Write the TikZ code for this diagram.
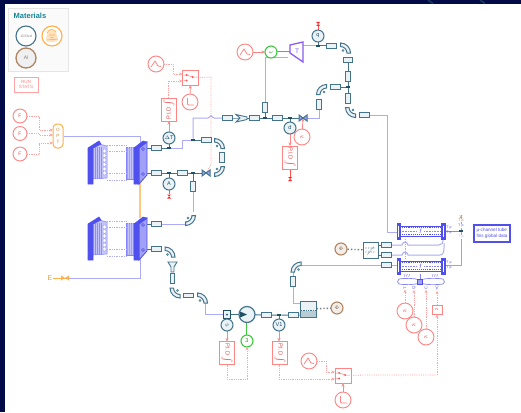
\documentclass[tikz,border=0pt]{standalone}
\usepackage{fontspec}
\setmainfont{Liberation Sans}
\usetikzlibrary{arrows.meta,calc,backgrounds}
\pgfdeclarelayer{lines}
\pgfdeclarelayer{back}
\pgfsetlayers{back,lines,main}
\definecolor{navy}{HTML}{020A48}
\definecolor{tealp}{HTML}{44748C}
\definecolor{teald}{HTML}{1F5068}
\definecolor{tealf}{HTML}{EAF2F6}
\definecolor{flow}{HTML}{ABABF6}
\definecolor{sg}{HTML}{FF8484}
\definecolor{sgl}{HTML}{FFA4A4}
\definecolor{sgt}{HTML}{E84A4A}
\definecolor{stb}{HTML}{5050EE}
\definecolor{stm}{HTML}{A0A0F8}
\definecolor{stl}{HTML}{C4C4FA}
\definecolor{grn}{HTML}{3CC83C}
\definecolor{prp}{HTML}{8A5CF0}
\definecolor{org}{HTML}{FFB04A}
\definecolor{brn}{HTML}{B08462}
\tikzset{
 pipeh/.style={draw=tealp,fill=tealf,line width=.9pt,minimum width=10pt,minimum height=4.5pt,inner sep=0pt,outer sep=0pt,rectangle},
 pipev/.style={draw=tealp,fill=tealf,line width=.9pt,minimum width=4.5pt,minimum height=10pt,inner sep=0pt,outer sep=0pt,rectangle},
 jct/.style={fill=teald,minimum width=4.5pt,minimum height=2.8pt,inner sep=0pt,outer sep=0pt,rectangle},
 sens/.style={circle,draw=tealp,fill=tealf,line width=1pt,minimum size=12pt,inner sep=0pt,outer sep=0pt,text=teald,font=\fontsize{5.5}{6}\selectfont},
 redc/.style={circle,draw=sg,fill=white,line width=.9pt,minimum size=16pt,inner sep=0pt,outer sep=0pt,text=sgt,font=\fontsize{6.5}{6}\selectfont},
 redm/.style={redc,minimum size=14pt,font=\fontsize{5}{6}\selectfont},
 greenc/.style={circle,draw=grn,fill=white,line width=1.1pt,minimum size=12pt,inner sep=0pt,outer sep=0pt,text=grn!70!black,font=\fontsize{5.5}{6}\selectfont},
 brownc/.style={circle,draw=brn,fill=brn!15,line width=1.1pt,minimum size=12pt,inner sep=0pt,outer sep=0pt,text=brn!70!black,font=\fontsize{5.5}{6}\selectfont},
 pidbox/.style={draw=sg,fill=white,line width=.9pt,minimum width=15pt,minimum height=23pt,inner sep=0pt,outer sep=0pt,rectangle,text=sgt,font=\fontsize{5.8}{6}\selectfont},
 swbox/.style={draw=sg,fill=white,line width=.9pt,minimum width=16pt,minimum height=15pt,inner sep=0pt,outer sep=0pt,rectangle},
 flowl/.style={draw=flow,line width=1pt},
 tline/.style={draw=tealp,line width=1pt},
 sigl/.style={draw=sgl,line width=.8pt,densely dotted},
 sigs/.style={draw=sg,line width=.8pt},
 arr/.style={-{Stealth[length=3.5pt,width=3pt]}},
 elbow/.pic={\path[draw=tealp,fill=tealf,line width=1pt] (0,-10) .. controls (5.5,-10) and (10,-5.5) .. (10,0) -- (6.5,0) .. controls (6.5,-3.5) and (3.5,-6.5) .. (0,-6.5) -- cycle;
   \draw[tealp,line width=.4pt] (2.5,-2.5) circle (1);},
 valve/.pic={\path[draw=tealp,fill=stm,line width=1pt] (-4,-3) -- (4,3) -- (4,-3) -- (-4,3) -- cycle;},
 gnd/.pic={\path[fill=red!85!white] (-2,-2) -- (2,-2) -- (-2,2) -- (2,2) -- cycle;},
 rampsym/.pic={\draw[sg,line width=.8pt] (-5,3) -- (-1,-3) -- (2,2) -- (5,2.5);},
 stepsym/.pic={\draw[sg,line width=.8pt,rounded corners=1pt] (-2.5,-4) -- (-2.5,3) -- (4,3);},
 swsym/.pic={\fill[red!80!white] (-4,-2.5) circle (1pt) (-4,3) circle (1pt) (2,-.5) circle (1pt);
   \draw[sg,line width=.5pt] (-7,-2.5) -- (-4,-2.5) -- (2,-.5) (-7,3) -- (-4,3) (2,-.5) -- (7,-.5);},
}
\newcommand{\stackunit}[2]{%
 \begin{scope}[shift={(#1,#2)}]
  \path[fill=stm,draw=stb!70!white,line width=.5pt] (38,6) rectangle (46,38);
  \foreach \q in {40,42,44} \draw[stl,line width=.5pt] (\q,6) -- (\q,38);
  \path[fill=stl,draw=stb!70!white,line width=.5pt] (5,7) -- (11,3) -- (19,5) -- (19,37) -- (5,38) -- cycle;
  \foreach \q in {7,9,11,13} \draw[stb!65!white,line width=.6pt] (\q,6) -- (\q,38);
  \foreach \q in {10,14.5,19,23.5,28,32} \draw[stb!50!white,fill=white,line width=.5pt] (16.5,\q) ellipse (1.6 and 2.1);
  \foreach \q in {4,10,32,39} \draw[stb!45!white,densely dotted,line width=.7pt] (19,\q) -- (38,\q);
  \path[fill=stb,draw=stb,line width=.6pt] (0,7) -- (11,0) -- (13,3) -- (5,7) -- (5,43) -- (0,43) -- cycle;
  \path[fill=stm,draw=stb,line width=.8pt] (51,7) -- (59,1) -- (59,34) -- (51,43) -- cycle;
  \path[fill=stb,draw=stb,line width=.6pt] (46,7) -- (55,0) -- (59,1) -- (51,7) -- (51,43) -- (46,43) -- cycle;
  \draw[stb,line width=.4pt] (55,8) circle (1.5) (55,33) circle (1.5);
 \end{scope}}
\newcommand{\hxunit}[1]{%
 \begin{scope}[shift={(397,#1)}]
  \draw[stb,line width=.8pt] (3,3) -- (44,3) (3,13) -- (44,13);
  \draw[stb,line width=1.1pt,densely dotted] (3,4.8) -- (44,4.8) (3,11.2) -- (44,11.2);
  \draw[stb!70!white,line width=.6pt,densely dotted] (3,8) -- (44,8);
  \path[fill=stb,draw=stb,line width=.5pt] (0,0) rectangle (3.2,16) (44,0) rectangle (48,16);
  \draw[white,line width=.5pt] (1.6,2.5) -- (1.6,13.5) (46,2.5) -- (46,13.5);
  \fill[white] (20,5) rectangle (27,11);
  \node[text=stb,font=\fontsize{6}{6}\itshape\selectfont,inner sep=0pt] at (23.5,8) {f};
 \end{scope}}
\begin{document}
\begin{tikzpicture}[x=1pt,y=-1pt]
\useasboundingbox (0,0) rectangle (521,412);
\begin{pgfonlayer}{back}
\fill[navy] (0,0) rectangle (521,412);
\fill[white] (5,4) rectangle (521,412);
\foreach \q in {428,480} \draw[teald!70!navy,line width=1.5pt] (\q,0) -- (\q+5,3.5);
\end{pgfonlayer}
% materials
\node[draw=black!10,fill=black!2,line width=1pt,minimum width=60pt,minimum height=62pt,inner sep=0pt] (panel) at (38,40) {};
\node[anchor=west,inner sep=0pt,text=teald!70!cyan,font=\bfseries\fontsize{7.5}{8}\selectfont] (mattitle) at (13.5,16) {Materials};
\node[circle,draw=tealp,fill=white,line width=1.1pt,minimum size=20pt,inner sep=0pt,text=black!50,font=\fontsize{3.5}{4}\selectfont] (m1) at (26,36) {1233zd};
\node[circle,draw=org,fill=white,line width=1.1pt,minimum size=20pt,inner sep=0pt] (m2) at (52,36) {};
\fill[org!35] (47,33) .. controls (48,29) and (54,28) .. (56,32) -- (58,40) .. controls (54,43) and (48,43) .. (46,40) -- cycle;
\draw[org,line width=.6pt] (47,33) .. controls (48,29) and (54,28) .. (56,32) (49,35) -- (55,35) (47,40) -- (58,39) (50,37) -- (54,38);
\node[circle,draw=brn,fill=black!6,line width=1.3pt,minimum size=20pt,inner sep=0pt,text=black!50,font=\fontsize{5}{6}\selectfont] (m3) at (26,58) {Al};
\node[draw=sgl,fill=white,line width=.8pt,minimum width=24pt,minimum height=15pt,inner sep=0pt,align=center,text=sg,font=\fontsize{4.6}{5.6}\selectfont] (runstats) at (26,84.5) {RUN\\STATS};
% left sources
\node[redm] (f1) at (20,116) {F};
\node[redm] (f2) at (20,133.5) {F};
\node[redm] (f3) at (20,154) {F};
\node[draw=org,fill=white,line width=1pt,rounded corners=4pt,minimum width=10pt,minimum height=24pt,inner sep=0pt,align=center,text=org!80!black,font=\fontsize{4.6}{6.2}\selectfont] (opt) at (58,136) {O\\P\\T};
\stackunit{88}{141}
\stackunit{88}{217}
\coordinate (st1a) at (147,148); \coordinate (st1b) at (147,173);
\coordinate (st2a) at (147,224); \coordinate (st2b) at (147,249);
% pipes and junctions
\node[pipeh] (p1) at (156,148) {}; \node[pipeh] (p2) at (156,173) {};
\node[pipeh] (p3) at (156,224) {}; \node[pipeh] (p4) at (156,249) {};
\node[jct] (j1) at (169,148) {}; \node[jct] (j2) at (169,173) {};
\node[sens] (st) at (169,138) {$\Delta$T}; \node[sens] (aa) at (169,184) {A};
\pic at (169,196.5) {gnd};
\coordinate (gndA) at (169,194);
\node[pipeh] (p5) at (182,173) {};
\node[jct] (j3) at (193,173) {};
\pic at (206,173) {valve}; \coordinate (v1) at (206,173);
\pic at (214.5,166.5) [rotate=270] {elbow};
\pic at (214.5,148.5) {elbow};
\node[pipev] (p6) at (222,157) {};
\node[pipeh] (p7) at (206,140) {};
\node[jct] (j4) at (193,140) {};
\node[pipev] (p8) at (193,186) {};
\pic at (185.5,215.5) [rotate=270] {elbow};
\pic at (165,257) {elbow};
\node[pipeh] (p9) at (227,118) {};
\path[draw=tealp,fill=tealf,line width=.9pt] (236,114.5) -- (247,117) -- (247,119.5) -- (236,122) -- (240,118) -- cycle;
\coordinate (noz1) at (241,118);
\node[pipeh] (p10) at (254,118) {};
\node[jct] (j5) at (265,118) {};
\node[pipev] (p11) at (265,107) {};
\node[pipeh] (p12) at (277,118) {};
\node[jct] (j6) at (290,118) {};
\pic at (303,118) {valve}; \coordinate (v2) at (303,118);
\node[sens] (dd) at (290,128) {d};
\node[redc] (k1) at (302,137) {$\kappa$};
\node[pidbox] (pid2) at (290,157.5) {\rotatebox{-90}{P.I.D\,$\int$}};
\pic at (290,179) {gnd}; \coordinate (gnd2) at (290,177);
\node[pipev] (p13) at (319,104) {};
\pic at (326.5,94.5) [rotate=90] {elbow};
\node[pipeh] (p14) at (335,87) {};
\node[jct] (j7) at (348,87) {};
\node[pipev] (p15) at (348,76) {};
\node[pipev] (p16) at (348,98) {};
\node[draw=tealp,fill=tealf,line width=.8pt,minimum width=9pt,minimum height=5pt,inner sep=0pt] (p17) at (348,60) {};
\pic at (340.5,53) {elbow};
\pic at (355.5,107.5) [rotate=180] {elbow};
\node[pipeh] (p18) at (331.5,46) {};
\node[pipeh] (p19) at (364,115) {};
\node[jct] (j8) at (318,46) {};
\node[sens] (qq) at (318,36) {q};
\pic at (318,24) {gnd}; \coordinate (gnd3) at (318,26);
% turbine
\path[draw=prp,fill=white,line width=1.3pt] (290,45) -- (303,42) -- (303,62) -- (290,53) -- cycle;
\node[text=prp,font=\fontsize{6.5}{7}\selectfont,inner sep=0pt] (turb) at (297,51) {T};
\coordinate (tin) at (288,57); \coordinate (tout) at (303,46);
\node[greenc] (om) at (271,52) {$\omega$};
\node[redc] (r1) at (245,52) {}; \pic at (245,52) {rampsym};
% PID upper-left
\node[pidbox] (pid1) at (169,109.5) {\rotatebox{90}{P.I.D\,$\int$}};
\node[swbox] (sw1) at (190.5,77.5) {}; \pic at (190.5,77.5) {swsym};
\node[redc] (r2) at (156,64) {}; \pic at (156,64) {rampsym};
\node[redc] (s1) at (190,102) {}; \pic at (190,102) {stepsym};
\coordinate (d1) at (173,64); \coordinate (d2) at (173,74);
\coordinate (d3) at (168,81); \coordinate (d4) at (211,77); \coordinate (d5) at (211,165);
% lower train
\node[pipev] (p20) at (172.5,278.5) {};
\path[draw=tealp,fill=tealf,line width=.9pt] (168,262) -- (177,262) -- (174,267) -- (174,272) -- (171,272) -- (171,267) -- cycle;
\coordinate (noz2) at (172.5,267);
\pic at (180,288) [rotate=180] {elbow};
\node[pipeh] (p21) at (188,295.5) {};
\pic at (197.5,303) {elbow};
\node[draw=teald,fill=tealf,line width=.9pt,minimum width=7.5pt,minimum height=8pt,inner sep=0pt] (flowm) at (227,314.5) {};
\fill[teald] (227,314.5) circle (1);
\node[circle,draw=tealp,fill=tealf,line width=1.2pt,minimum size=16pt,inner sep=0pt,outer sep=0pt] (pump) at (247,314.5) {};
\fill[teald] (247,314.5) -- (240,311.5) -- (240,317.5) -- cycle;
\node[sens] (psi) at (227,325) {$\psi$};
\node[greenc] (g3) at (247,341) {3};
\node[pidbox] (pid3) at (227,353) {\rotatebox{-90}{P.I.D\,$\int$}};
\node[pidbox] (pid4) at (280,353) {\rotatebox{-90}{P.I.D\,$\int$}};
\node[pipeh] (p22) at (266,315) {};
\node[jct] (j9) at (279,315) {};
\node[sens] (v1s) at (279,325) {V1};
\node[pipeh] (p23) at (293,315) {};
\node[draw=tealp,fill=tealf,line width=1pt,minimum width=16pt,minimum height=16pt,inner sep=0pt] (tank) at (308,309) {};
\fill[tealf!70!tealp] (300.5,311) rectangle (315.5,316.5);
\draw[tealp,densely dotted,line width=.7pt] (301,310) -- (315,310);
\node[brownc] (phi1) at (337,308) {$\Phi$};
\node[pipev] (p24) at (293,281) {};
\pic at (301,272) [rotate=90] {elbow};
\node[swbox] (sw2) at (343,375.5) {}; \pic at (343,375.5) {swsym};
\node[redc] (r3) at (309,361) {}; \pic at (309,361) {rampsym};
\node[redc] (s2) at (343,400) {}; \pic at (343,400) {stepsym};
\coordinate (d6) at (227,379); \coordinate (d7) at (247,379);
\coordinate (d8) at (279,379); \coordinate (d9) at (437,375);
\coordinate (d10) at (326,361); \coordinate (d11) at (326,372);
% heat exchangers
\hxunit{223}
\hxunit{258}
\node[draw=tealp,fill=white,line width=1pt,minimum width=15pt,minimum height=16pt,inner sep=0pt] (hxbox) at (370.5,250) {};
\draw[tealp,densely dotted,line width=.6pt] (365,248) -- (376,248) (365,252) -- (376,252) (367,255) -- (374,246);
\node[brownc] (phi2) at (341,249) {$\Phi$};
\node[pipeh] (p25) at (386,245) {};
\node[pipeh] (p26) at (386,255) {};
\node[pipeh] (p27) at (386,265) {};
\coordinate (h1) at (397,232);
\coordinate (h2) at (397,265);
\coordinate (hu) at (445,231);
\coordinate (hl) at (445,265);
\node[jct] (jr) at (461,231) {};
\coordinate (rtop) at (461,215);
\coordinate (rbot) at (461,265);
\fill[brn!70] (459,215.5) -- (463,215.5) -- (459,218) -- (463,218) -- cycle;
\node[text=brn,font=\fontsize{3.5}{4}\selectfont,inner sep=0pt,fill=white] (lab1) at (461,220.5) {T p};
\node[text=stb,font=\fontsize{3.5}{4}\selectfont,inner sep=0pt,fill=white] (lab2) at (461,226) {T p};
\node[text=stb!50!white,font=\fontsize{3.5}{4}\selectfont,inner sep=0pt,fill=white] (lab3) at (461,237) {T p};
\foreach \q in {228,233,263,268} \node[text=stb,font=\fontsize{3.5}{4}\selectfont,inner sep=0pt] at (449,\q) {T p};
% bar
\path[draw=stb!70!white,fill=white,line width=.7pt] (399,279) .. controls (405,278) and (414,278) .. (420,280) .. controls (426,278) and (436,278) .. (443,279) .. controls (445,281) and (445,283) .. (443,284) .. controls (436,285) and (426,285) .. (420,283) .. controls (414,285) and (405,285) .. (399,284) .. controls (397,283) and (397,281) .. (399,279) -- cycle;
\node[draw=stb,fill=stm,line width=.8pt,minimum size=4.5pt,inner sep=0pt] (hsq) at (420,282) {};
\node[text=stb,font=\fontsize{4}{4}\itshape\selectfont,inner sep=0pt] (ff1) at (407,276) {f f f};
\node[text=stb,font=\fontsize{4}{4}\itshape\selectfont,inner sep=0pt] (ff2) at (435,276) {f f f};
\coordinate (hxb) at (420,274);
\node[text=stb,font=\fontsize{4}{4}\selectfont,inner sep=0pt,rotate=90] (t1) at (405,288) {T};
\node[text=stb,font=\fontsize{4}{4}\selectfont,inner sep=0pt,rotate=90] (t2) at (414,288) {Q};
\node[text=stb,font=\fontsize{4}{4}\selectfont,inner sep=0pt,rotate=90] (t3) at (426,288) {C};
\node[text=stb,font=\fontsize{4}{4}\selectfont,inner sep=0pt,rotate=90] (t4) at (437,288) {+C};
\node[redc] (c1) at (405,311) {$\kappa$};
\node[redc] (c2) at (414,325) {$\kappa$};
\node[redc] (c3) at (426,337) {$\kappa$};
\node[draw=sg,fill=white,line width=.9pt,minimum width=10pt,minimum height=9pt,inner sep=0pt,text=sgt,font=\fontsize{5}{6}\selectfont] (kb) at (437,309.5) {$\kappa$};
\node[draw=stb,fill=white,line width=1.2pt,minimum width=36pt,minimum height=17pt,inner sep=0pt,align=left,text=stb,font=\fontsize{4.6}{6.2}\selectfont] (note) at (492,233.5) {µ-channel tube\\fins global data};
% orange end
\node[text=org!90!black,font=\fontsize{7}{7}\selectfont,inner sep=0pt] (ee) at (50,278) {E};
\path[fill=org] (61,275.5) -- (69,280.5) -- (69,275.5) -- (61,280.5) -- cycle;
\coordinate (v3) at (65,278);
\coordinate (s2low) at (140,258); \coordinate (s2c) at (140,278);
\begin{pgfonlayer}{lines}
\draw[flowl] (opt.east) -- (140,136) -- (140,143);
\draw[org!70,line width=1.4pt] (140,183) -- (140,218);
\draw[flowl] (s2low) -- (s2c) -- (v3);
\draw[org,line width=.8pt] (v3) -- (ee);
\draw[sigl,arr] (f1.east) -- (39,116) -- (39,130) -- (53,130);
\draw[sigl,arr] (f2.east) -- (39,133.5) -- (39,135) -- (53,135);
\draw[sigl,arr] (f3.east) -- (39,154) -- (39,143) -- (53,143);
\draw[tline] (st1a) -- (p1) -- (j1);
\draw[tline] (st1b) -- (p2) -- (j2) -- (p5) -- (j3) -- (v1);
\draw[tline] (st2a) -- (p3); \draw[tline] (st2b) -- (p4);
\draw[flowl] (j1) -- (182,148) -- (182,140) -- (j4);
\draw[tline] (j4) -- (p7);
\draw[tline] (j3) -- (p8);
\draw[flowl] (p8) -- (193,212);
\draw[flowl] (p3) -- (186,224);
\draw[flowl] (j4) -- (193,118) -- (208,118) .. controls (210,118) and (210,115.5) .. (211,115.5) .. controls (212,115.5) and (212,118) .. (214,118) -- (p9);
\draw[tline] (p9) -- (noz1) -- (p10) -- (j5) -- (p12) -- (j6) -- (v2);
\draw[flowl] (p11) -- (265,57) -- (tin);
\draw[tline] (j5) -- (p11);
\draw[flowl] (v2) -- (319,118) -- (p13);
\draw[tline] (p16) -- (j7) -- (p15) -- (p17);
\draw[tline] (j7) -- (p14);
\draw[flowl] (tout) -- (j8 |- tout);
\draw[tline] (j8) -- (p18);
\draw[flowl] (p19) -- (387,115) -- (387,232) -- (h1);
\draw[tline] (qq) -- (j8); \draw[tline] (st) -- (j1); \draw[tline] (aa) -- (j2); \draw[tline] (dd) -- (j6); \draw[tline] (v1s) -- (j9);
\draw[red!70!white,line width=.8pt] (aa) -- (gndA); \draw[red!70!white,line width=.8pt] (pid2) -- (gnd2); \draw[red!70!white,line width=.8pt] (qq) -- (gnd3);
\draw[sigs,arr] (dd) -- (pid2);
\draw[sigs,arr] (k1) -- (v2);
\draw[sigs,arr] (st) -- (pid1);
\draw[sigs,arr] (r1) -- (om);
\draw[grn,line width=2.8pt] (om) -- (290,52); \draw[white,line width=.9pt] (om) -- (290,52);
\draw[sigl,arr] (r2) -- (d1) -- (d2) -- (182.5,74);
\draw[sigl,arr] (pid1.north -| d3) -- (d3) -- (182.5,81);
\draw[sigl] (sw1.east) -- (d4) -- (d5) -- (v1);
\draw[sigs,arr] (s1) -- (sw1);
\draw[flowl] (205,303) -- (205,314.5) -- (flowm);
\draw[tline] (flowm) -- (pump);
\draw[tline] (pump) -- (p22) -- (j9) -- (p23) -- (tank.west |- p23);
\draw[tline] (flowm) -- (psi);
\draw[grn,line width=2.8pt] (pump) -- (g3); \draw[white,line width=.9pt] (pump) -- (g3);
\draw[sigs,arr] (psi) -- (pid3);
\draw[sigs,arr] (v1s) -- (v1s |- pid4.north);
\draw[sigl] (pid3) -- (d6) -- (d7);
\draw[sigl,arr] (d7) -- (g3);
\draw[sigl,arr] (pid4.south -| d8) -- (d8) -- (335,379);
\draw[sigl,arr] (r3) -- (d10) -- (d11) -- (335,372);
\draw[sigs,arr] (s2) -- (sw2);
\draw[sigl] (sw2.east) -- (363,375) -- (d9);
\draw[sigl,arr] (d9) -- (kb);
\draw[flowl] (p24) -- (293,303) -- (300,303);
\draw[flowl] (p24) -- (293,272);
\draw[flowl] (301,265) -- (p27);
\draw[flowl] (p27) -- (h2);
\draw[tealp!60!brn,line width=1.4pt,dotted] (tank) -- (phi1);
\draw[tealp!60!brn,line width=1.4pt,dotted] (hxbox) -- (phi2);
\draw[tline] (hxbox.east |- p25) -- (p25);
\draw[tline] (hxbox.east |- p26) -- (p26);
\draw[flowl] (p25) -- (402,245) .. controls (403,241) and (407,241) .. (408,245) -- (439,245) .. controls (442,245) and (443,243) .. (443,239);
\draw[flowl] (p26) -- (402,255) .. controls (403,251) and (407,251) .. (408,255) -- (440,255) .. controls (443,255) and (444,252) .. (444,248) -- (444,243);
\draw[stb!50!white,densely dotted,line width=.7pt] (405,239) -- (405,258);
\draw[stb!70!white,line width=.8pt] (hu) -- (jr);
\draw[brn!50!red!60!white,line width=.9pt] (hl) -- (rbot) -- (rtop);
\draw[stb!70!white,line width=.8pt] (hxb) -- (hsq);
\draw[sigl,arr] (c1) -- (t1);
\draw[sigl,arr] (c2) -- (t2);
\draw[sigl,arr] (c3) -- (t3);
\draw[sigl,arr] (kb) -- (t4);
\end{pgfonlayer}
\end{tikzpicture}
\end{document}
